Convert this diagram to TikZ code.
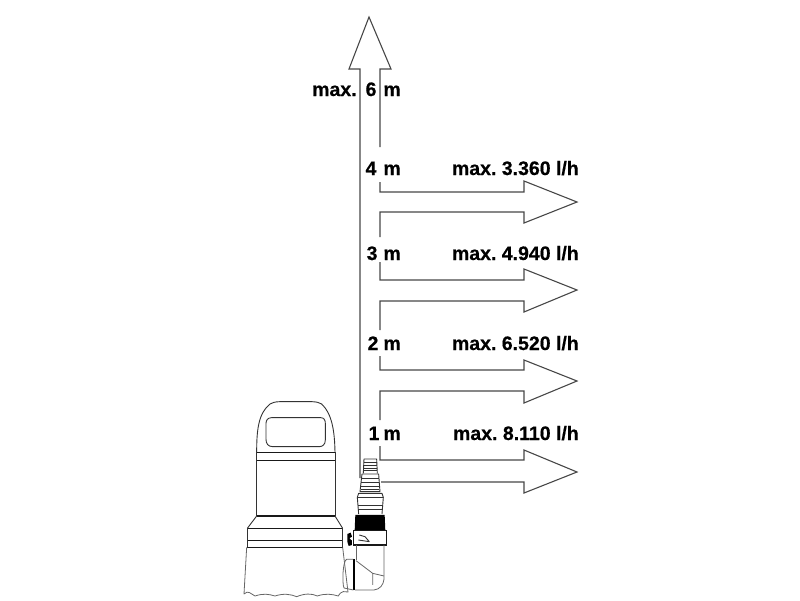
\documentclass[tikz,border=0pt]{standalone}
\usepackage{fontspec}
\setmainfont{Liberation Sans}[BoldFeatures={FakeBold=0.5}]
\tikzset{
  flow/.style={draw=black!72,line width=1.1pt,line join=miter},
  lab/.style={inner sep=0pt,font=\bfseries\fontsize{19.5}{22}\selectfont,text=black,anchor=base east},
  pumpline/.style={draw=black!80,line width=0.9pt,line join=round},
  heavy/.style={draw=black!90,line width=1.4pt},
  faint/.style={draw=black!60,line width=0.8pt,line join=round}
}
\begin{document}
\begin{tikzpicture}[x=1pt,y=-1pt]
\useasboundingbox (0,0) rectangle (800,600);
% vertical delivery arrow
\coordinate (baseL) at (360,478);
\coordinate (tipV) at (369,17);
\draw[flow] (baseL) -- (360,69) -- (349,69) -- (tipV) -- (391,69) -- (380,69) -- (380,147);
% horizontal flow arrows, one per delivery height
\draw[flow] (380,182) -- (380,192) -- (524,192) -- (524,181) -- (577,202) -- (524,223) -- (524,212) -- (380,212) -- (380,237);
\draw[flow] (380,262) -- (380,280) -- (524,280) -- (524,269) -- (577,290) -- (524,312) -- (524,301) -- (380,301) -- (380,330);
\draw[flow] (380,356) -- (380,370) -- (524,370) -- (524,360) -- (577,381) -- (524,403) -- (524,391) -- (380,391) -- (380,420);
\draw[flow] (380,446) -- (380,460) -- (524,460) -- (524,450) -- (577,472) -- (524,493) -- (524,482) -- (381,482);
% labels
\node[lab] (hmax) at (401,96) {max.\hspace{9pt}6\hspace{7pt}m};
\node[lab] (h4) at (401,175) {4\hspace{7pt}m};
\node[lab] (h3) at (401,260) {3\hspace{6pt}m};
\node[lab] (h2) at (401,350) {2\hspace{5pt}m};
\node[lab] (h1) at (401,440) {1\hspace{4pt}m};
\node[lab] (q4) at (579,175) {max.\ 3.360 l/h};
\node[lab] (q3) at (579,260) {max.\ 4.940 l/h};
\node[lab] (q2) at (579,350) {max.\ 6.520 l/h};
\node[lab] (q1) at (579,440) {max.\ 8.110 l/h};
% pump body, drawn on a 3:1 local grid
\begin{scope}[shift={(230,390)},x=0.3333pt,y=-0.3333pt]
  % handle
  \draw[pumpline] (80,187) .. controls (80,120) and (85,70) .. (120,42) .. controls (135,33) and (150,35) .. (197,35)
     .. controls (245,35) and (260,33) .. (275,42) .. controls (305,70) and (314,120) .. (315,187);
  \draw[pumpline] (125,83) -- (272,83) .. controls (282,83) and (286,90) .. (286,100) -- (286,150)
     .. controls (286,163) and (278,170) .. (268,170) -- (128,170) .. controls (114,170) and (108,160) .. (108,148)
     -- (108,100) .. controls (108,90) and (114,83) .. (125,83) -- cycle;
  % upper housing
  \draw[heavy] (80,187) -- (315,187);
  \draw[heavy] (80,211) -- (315,211);
  \draw[pumpline] (80,187) -- (80,378) (315,187) -- (315,378);
  \draw[heavy] (80,378) -- (315,378);
  \draw[pumpline] (80,378) -- (52,415) (315,378) -- (338,415);
  \draw[heavy] (52,415) -- (338,415);
  \draw[heavy] (52,452) -- (338,452);
  \draw[heavy] (52,472) -- (338,472);
  \draw[pumpline] (52,415) -- (52,472) (338,415) -- (338,472);
  % strainer foot with uneven lower edge
  \draw[faint] (50,472) -- (42,612) .. controls (55,600) and (60,610) .. (75,618) .. controls (100,610) and (115,612) .. (135,618)
     .. controls (160,610) and (180,612) .. (200,620) .. controls (225,610) and (245,610) .. (262,618)
     .. controls (285,610) and (305,612) .. (325,618) .. controls (335,600) and (345,605) .. (354,606) -- (338,472);
  % hose barbs
  \draw[pumpline] (402,207) -- (440,207) -- (442,250) (402,207) -- (400,250);
  \foreach \yy in {218,226,234,242}{\draw[pumpline] (401,\yy) -- (441,\yy);}
  \draw[pumpline] (396,252) -- (446,252) -- (450,305) -- (390,305) -- cycle;
  \foreach \yy in {264,276,288,298}{\draw[pumpline] (393,\yy) -- (448,\yy);}
  \draw[pumpline] (386,310) -- (456,310) -- (460,322) -- (456,372) (386,310) -- (382,322) -- (386,372);
  \foreach \yy in {322,345,358}{\draw[pumpline] (383,\yy) -- (459,\yy);}
  % threaded coupling
  \fill[black] (376,375) -- (464,375) -- (466,422) -- (374,422) -- cycle;
  \draw[heavy] (370,422) -- (470,422) -- (470,465) -- (370,465) -- cycle;
  \draw[pumpline] (388,435) -- (405,440) -- (418,455) (385,450) -- (418,455);
  % clip on the housing
  \fill[black] (352,432) -- (362,428) -- (366,440) -- (358,445) -- (366,452) -- (366,465) -- (356,468) -- (352,455) -- cycle;
  % elbow
  \draw[faint] (380,465) -- (380,510);
  \draw[faint] (462,465) -- (462,568) .. controls (460,585) and (450,598) .. (432,600) -- (375,600);
  \draw[faint] (378,512) -- (428,550) -- (428,585) (428,550) -- (462,558);
  \draw[black,line width=2pt] (372,508) -- (372,600);
  \draw[faint] (370,508) -- (350,508) .. controls (338,512) and (336,580) .. (342,594) -- (370,600);
\end{scope}
\end{tikzpicture}
\end{document}
